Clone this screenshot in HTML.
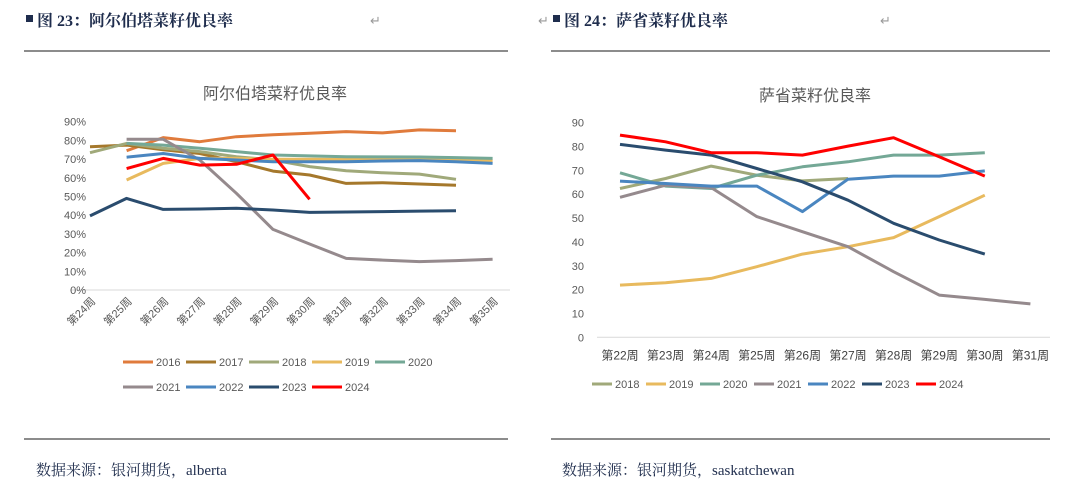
<!DOCTYPE html>
<html><head><meta charset="utf-8"><style>
body{margin:0;background:#fff;width:1080px;height:504px;overflow:hidden;font-family:"Liberation Serif","Noto Serif CJK SC",serif}
svg{position:absolute;left:0;top:0}
</style></head><body>
<svg id="s" width="1080" height="504">
<g>
<rect x="26" y="15" width="7" height="7" fill="#1F2D4D"/>
<text x="37" y="26" font-size="16" font-weight="bold" fill="#1F2D4D" font-family="Liberation Serif,Noto Serif CJK SC,serif">图 23：阿尔伯塔菜籽优良率</text>
<text x="370" y="25" font-size="13" fill="#999">↵</text>
</g>
<g>
<text x="538" y="25" font-size="13" fill="#999">↵</text>
<rect x="553" y="15" width="7" height="7" fill="#1F2D4D"/>
<text x="564" y="26" font-size="16" font-weight="bold" fill="#1F2D4D" font-family="Liberation Serif,Noto Serif CJK SC,serif">图 24：萨省菜籽优良率</text>
<text x="880" y="25" font-size="13" fill="#999">↵</text>
</g>
<line x1="24" y1="51" x2="508" y2="51" stroke="#666" stroke-width="1.5"/>
<line x1="551" y1="51" x2="1050" y2="51" stroke="#666" stroke-width="1.5"/>
<line x1="24" y1="439" x2="508" y2="439" stroke="#666" stroke-width="1.5"/>
<line x1="551" y1="439" x2="1050" y2="439" stroke="#666" stroke-width="1.5"/>
<text x="36" y="475" font-size="15" fill="#1F2D4D">数据来源：银河期货，alberta</text>
<text x="562" y="475" font-size="15" fill="#1F2D4D">数据来源：银河期货，saskatchewan</text>
<text x="275" y="99" font-size="16" fill="#595959" text-anchor="middle" font-family="Liberation Sans,Noto Sans CJK SC,sans-serif">阿尔伯塔菜籽优良率</text>
<text x="815" y="101" font-size="16" fill="#595959" text-anchor="middle" font-family="Liberation Sans,Noto Sans CJK SC,sans-serif">萨省菜籽优良率</text>
<g id="L"></g><g id="R"></g>
</svg>
<script>
const colors={"2016":"#E07B3C","2017":"#A5782C","2018":"#A0A97A","2019":"#E8BA5E","2020":"#74A896","2021":"#958A8D","2022":"#4A86C0","2023":"#2A4C6E","2024":"#FF0000"};
// Left chart (Alberta)
const leftCats=["第24周","第25周","第26周","第27周","第28周","第29周","第30周","第31周","第32周","第33周","第34周","第35周"];
const leftTicks=[0,10,20,30,40,50,60,70,80,90];
const l2016=[null,74.5,81.5,79.3,82,83,83.8,84.7,84,85.6,85.2,null];
const l2017=[76.6,77.5,75,73,68.6,63.6,61.5,57,57.4,56.7,56,null];
const l2018=[73.4,78.4,75.8,74,71.3,69.5,66,63.8,62.7,62,59.2,null];
const l2019=[null,58.8,67.7,70.4,70.4,69.9,69.9,69.9,69.8,69.7,69.5,69.2];
const l2020=[null,78.4,77.5,75.8,74,72.2,71.7,71.3,71.2,71.1,70.8,70.4];
const l2021=[null,80.6,80.6,69.5,51.7,32.4,24.6,16.9,16,15.2,15.7,16.4];
const l2022=[null,71,73,70.4,69.5,68.6,68.6,68.6,69,69.2,68.6,67.7];
const l2023=[39.6,49,43.1,43.3,43.7,42.8,41.5,41.7,41.9,42.2,42.4,null];
const l2024=[null,64.9,70.4,66.8,67.2,72.2,48.5,null,null,null,null,null];
const leftSeries=[["2016",l2016],["2017",l2017],["2018",l2018],["2019",l2019],["2020",l2020],["2021",l2021],["2022",l2022],["2023",l2023],["2024",l2024]];
// Right chart (Saskatchewan)
const rightCats=["第22周","第23周","第24周","第25周","第26周","第27周","第28周","第29周","第30周","第31周"];
const rightTicks=[0,10,20,30,40,50,60,70,80,90];
const r2018=[62.4,66.6,71.8,68,65.6,66.6,null,null,null,null];
const r2019=[21.9,22.9,24.7,29.6,34.9,38,41.8,50.6,59.6,null];
const r2020=[69,63.4,62.4,68,71.5,73.6,76.4,76.4,77.4,null];
const r2021=[58.7,63.8,62.8,50.6,44.3,38,27.5,17.7,15.9,14];
const r2022=[65.5,64.5,63.4,63.4,52.7,66.3,67.6,67.6,69.8,null];
const r2023=[80.9,78.5,76.4,70.8,65.2,57.5,47.8,40.8,34.9,null];
const r2024=[84.8,82,77.4,77.4,76.4,80.2,83.7,75.7,67.6,null];
const rightSeries=[["2018",r2018],["2019",r2019],["2020",r2020],["2021",r2021],["2022",r2022],["2023",r2023],["2024",r2024]];

const NS="http://www.w3.org/2000/svg";
function mk(p,t,a){const e=document.createElementNS(NS,t);for(const k in a)e.setAttribute(k,a[k]);p.appendChild(e);return e;}
function draw(g,cats,ticks,series,cfg){
  const xs=i=>cfg.x0+i*cfg.dx, ys=v=>cfg.y0-(v/90)*(cfg.y0-cfg.y90);
  const ax=mk(g,"line",{x1:cfg.ax0,x2:cfg.ax1,y1:cfg.y0,y2:cfg.y0,stroke:"#d9d9d9","stroke-width":1});
  
  
  ticks.forEach(t=>{const e=mk(g,"text",{x:cfg.tx,y:ys(t)+4,"font-size":11,fill:"#595959","text-anchor":"end","font-family":"Liberation Sans,sans-serif"});e.textContent=t+cfg.suf;
    
    });
  cats.forEach((c,i)=>{let e;
    if(cfg.rot){e=mk(g,"text",{x:xs(i)+6,y:cfg.y0+12,"font-size":11,fill:"#595959","text-anchor":"end",transform:`rotate(-45 ${xs(i)+6} ${cfg.y0+12})`,"font-family":"Liberation Sans,Noto Sans CJK SC,sans-serif"});}
    else{e=mk(g,"text",{x:xs(i),y:cfg.y0+22,"font-size":12,fill:"#404040","text-anchor":"middle","font-family":"Liberation Sans,Noto Sans CJK SC,sans-serif"});}
    e.textContent=c;
    
    });
  series.forEach(([n,vals])=>{let d="",pen=false;vals.forEach((v,i)=>{if(v==null){pen=false;return;}d+=(pen?"L":"M")+xs(i).toFixed(1)+" "+ys(v).toFixed(1)+" ";pen=true;});
    const p=mk(g,"path",{d:d,fill:"none",stroke:colors[n],"stroke-width":n==="2024"?3:3,"stroke-linejoin":"round"});
    
    });
  series.forEach(([n],k)=>{const r=Math.floor(k/cfg.per),c=k%cfg.per;const lx=cfg.lx+c*cfg.lstep,ly=cfg.ly+r*25;
    const l=mk(g,"line",{x1:lx,x2:lx+cfg.llen,y1:ly,y2:ly,stroke:colors[n],"stroke-width":3});
    
    
    const t=mk(g,"text",{x:lx+cfg.llen+3,y:ly+4,"font-size":11,fill:"#595959","font-family":"Liberation Sans,sans-serif"});t.textContent=n;
    
    });
}
draw(document.getElementById("L"),leftCats,leftTicks,leftSeries,{x0:90,dx:36.6,y0:290,y90:121.7,ax0:70,ax1:510,tx:86,suf:"%",rot:true,per:5,lx:123,lstep:63,llen:30,ly:362});
draw(document.getElementById("R"),rightCats,rightTicks,rightSeries,{x0:620,dx:45.6,y0:337.3,y90:122.7,ax0:597,ax1:1050,tx:584,suf:"",rot:false,per:9,lx:592,lstep:54,llen:20,ly:384});
</script>
</body></html>
